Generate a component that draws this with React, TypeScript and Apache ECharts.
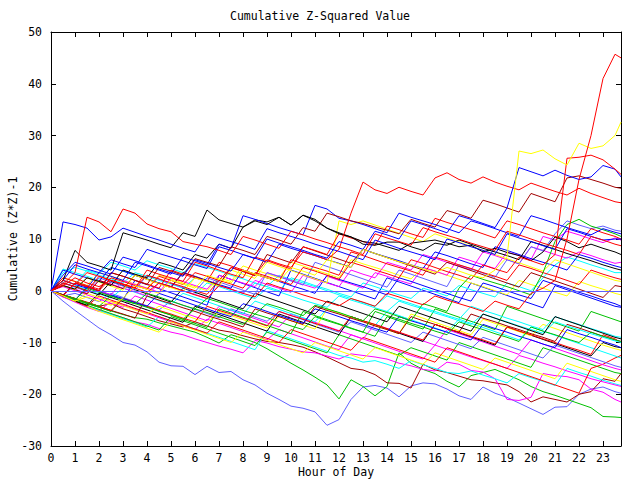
import React, { useEffect, useRef } from "react";
import * as echarts from "echarts";

const TITLE = "Cumulative Z-Squared Value";
const X_NAME = "Hour of Day";
const Y_NAME = "Cumulative (Z*Z)-1";

const HOURS = [
  0, 0.5, 1, 1.5, 2, 2.5, 3, 3.5, 4, 4.5, 5, 5.5,
  6, 6.5, 7, 7.5, 8, 8.5, 9, 9.5, 10, 10.5, 11, 11.5,
  12, 12.5, 13, 13.5, 14, 14.5, 15, 15.5, 16, 16.5, 17, 17.5,
  18, 18.5, 19, 19.5, 20, 20.5, 21, 21.5, 22, 22.5, 23, 23.5, 23.75,
];

const RED = "#ff0000";
const GREEN = "#00c000";
const BLUE = "#0000ff";
const MAGENTA = "#ff00ff";
const CYAN = "#00ffff";
const DARKRED = "#a00000";
const YELLOW = "#ffff00";
const BLACK = "#000000";
const LIGHTBLUE = "#6060ff";

const LB1 = [0, -2, -3.8, -5.5, -7.2, -8.5, -10, -10.5, -11.8, -13.8, -14.5, -14.6,
  -16.2, -14.6, -15.8, -15.6, -17.2, -18.2, -19.8, -21, -22.3, -22.7, -23.4, -26,
  -24.9, -21, -18.6, -18.3, -18.8, -20.5, -18.4, -17.8, -18, -19, -20.3, -21,
  -18.6, -19.8, -20.6, -21.7, -22.8, -23.9, -22.5, -22.4, -20, -19, -18.6, -19.5, -19.8];
const G1 = [0, -1, -1.8, -2.5, -3.2, -3.9, -4.6, -5.2, -5.5, -6.2, -6.8, -7.4,
  -8, -9, -10.1, -8.5, -9.2, -10, -11.2, -12.6, -14, -15.3, -16.7, -18.2,
  -20.9, -17.2, -18.5, -20.3, -18.5, -12, -14, -15.2, -16, -17.5, -18.6, -16.4,
  -15.8, -15.2, -16.2, -17.2, -18.5, -19.5, -20.2, -21, -21.8, -22.6, -24.3, -24.4, -24.5];
const DR1 = [0, -0.8, -1.5, -2.3, -3, -2.5, -3.5, -4.2, -5, -5.8, -6.4, -7,
  -6, -6.8, -7.6, -8, -8.7, -9.3, -9.8, -10, -10.4, -10.9, -11.8, -12.8,
  -13.9, -15, -15.3, -16.2, -17.8, -17.9, -18.8, -14.2, -15.3, -15.8, -16.5, -17.2,
  -17.4, -17.8, -18.2, -19.5, -21.5, -20.5, -21, -21.5, -20, -19.5, -17, -17.5, -16];
const M1 = [0, -1.2, -2, -3, -3.8, -4.5, -5.2, -6, -6.5, -7.3, -8, -8.5,
  -9.3, -10, -10.7, -11.3, -12, -9.6, -10.1, -10.8, -11.3, -11.8, -12, -12.6,
  -13.2, -12.2, -12.5, -12.8, -13.2, -14, -14.5, -15.2, -15.5, -13.8, -14.2, -15.4,
  -15.7, -17, -21, -21.2, -20.6, -16, -16.4, -16.6, -17.2, -19, -19.6, -21, -21.5];
const R_TOP = [0, 1, 2.5, 1.5, 0.8, 2, 1.2, 0.5, -0.3, 1.5, 0.8, 0,
  -0.8, -1.5, 1, 0.3, -0.5, -1.2, 1.5, 0.7, 0, -0.8, -1.5, -2.2,
  -2.9, -1.5, -2.2, -3, -0.5, -1.2, -2, -2.7, -1, -1.8, -2.5, -3.2,
  -4, -2, -2.8, -3.5, -0.5, 0.5, 2, 10, 21.5, 30, 41, 45.7, 45];
const Y_TOP = [0, -1, -2, -1.2, -2, -2.8, -1.5, 1, 0.3, -0.5, 2, 1.3,
  0.5, 3, 2.2, 1.5, 4, 3.2, 2.5, 1.8, 4.5, 3.8, 3, 6,
  5.2, 4.5, 8, 7.2, 6.4, 5.6, 5, 4.2, 3.5, 4.5, 3.8, 3,
  2.5, 4, 6.5, 27, 26.5, 27.2, 25.5, 24.3, 28.5, 27.5, 28, 30, 32.6];
const R_26 = [0, 2, 1.2, 3.5, 2.8, 2, 1.3, 0.6, 3, 2.3, 1.5, 0.8,
  0, -0.7, 2, 1.3, 0.5, 3.5, 2.8, 2, 1.2, 4.5, 3.8, 3,
  2.2, 5.5, 4.8, 4, 3.3, 2.5, 6, 5.3, 4.5, 3.7, 3, 2.2,
  5, 4.2, 3.5, 6.5, 5.8, 5, 7, 25.6, 25.8, 26.2, 25.3, 23.5, 22.5];
const B_TOP = [0, 3, 5.5, 4.8, 4, 3.2, 6.5, 5.8, 5, 4.2, 3.5, 2.8,
  6, 5.3, 4.5, 3.8, 7, 6.2, 10, 9.2, 8.5, 7.8, 7, 6.3,
  9.5, 8.8, 8, 11.5, 10.8, 10, 13.5, 12.8, 12, 11.2, 14.5, 13.8,
  13, 12.2, 16, 23.8, 23, 22.2, 23.3, 22.3, 21.5, 22, 24.2, 23.5, 22];
const R_MID = [0, -1, 1.5, 0.8, 0, 2.5, 1.8, 1, 0.3, 2.8, 2, 1.2,
  3.5, 2.8, 2, 4.5, 3.8, 3, 6, 5.2, 4.5, 7.5, 6.8, 6,
  8, 15, 21, 19.5, 18.8, 20, 19.2, 18.5, 21.8, 22.8, 21.5, 20.8,
  22, 21, 20.2, 19.5, 20.8, 20, 19.2, 18.5, 19.8, 18.8, 18, 17.2, 17];
const R_16 = [0, 1.2, 3.5, 14.2, 13.3, 11.4, 15.8, 15, 12.9, 12, 11.4, 9.5,
  9, 8.5, 7.8, 7, 10.5, 9.8, 9, 8.2, 11.5, 10.8, 10, 9.3,
  8.5, 7.8, 7, 11, 10.2, 9.5, 8.8, 12.2, 11.4, 10.7, 10, 9.2,
  8.5, 7.8, 11.5, 10.8, 10, 9.2, 8.5, 7.8, 7, 10.5, 9.8, 9, 8.7];
const B_13 = [0, 13.3, 12.8, 12.1, 9.8, 10.4, 12.1, 11.3, 10.5, 9.8, 9, 8.2,
  7.5, 11, 10.2, 9.5, 8.8, 8, 12, 11.2, 10.5, 9.8, 9, 8.3,
  7.6, 6.8, 6, 9.8, 9, 8.2, 7.5, 6.8, 6, 10, 9.3, 8.5,
  7.8, 7, 11, 10.2, 9.5, 8.7, 8, 12, 11.3, 10.5, 9.8, 10, 10];
const K_BIG = [0, 2, 7.8, 5.5, 4.8, 4, 11.2, 10.5, 9.8, 9, 8.3, 11.2,
  10.5, 15.6, 13.7, 13, 12.3, 13.5, 12.8, 14.2, 12.7, 14.6, 13.8, 12.1,
  11.2, 10.4, 9, 8.8, 9.4, 9.4, 8.5, 7.8, 9.2, 8.8, 9.8, 9,
  8.2, 7.5, 6.8, 6, 9.5, 8.8, 8, 7.2, 6.5, 5.8, 5, 4.3, 4];
const K_2 = [0, 1, 0.3, 2.5, 1.8, 1, 4, 3.2, 2.5, 5.5, 4.8, 4,
  7, 6.3, 9, 8.2, 12.3, 13.7, 13.3, 14.2, 12.7, 14.6, 13.5, 12.1,
  11, 10.4, 9.5, 9.2, 8.5, 7.8, 9.2, 9.5, 9.8, 9.2, 8.5, 8.8,
  7.5, 8.2, 7.4, 6.8, 5.8, 7.5, 10.4, 9.5, 8.3, 9, 8.2, 7.5, 7];
const DR_TOP = [0, -0.8, 1.5, 0.8, 0, 3.5, 2.8, 2, 1.2, 4.5, 3.8, 3,
  6.2, 5.5, 4.8, 8.5, 7.8, 7, 10.5, 9.8, 9, 12.2, 11.5, 15,
  14.3, 13.5, 13, 12.3, 11.7, 11, 13.8, 13, 12.3, 15.5, 14.8, 14,
  17.5, 16.8, 16, 15.2, 18.8, 18, 17.2, 21.8, 22.2, 21.5, 20.8, 20, 19.8];
const B_16 = [0, 2, 1.2, 0.5, 3.5, 2.8, 2, 5.5, 4.8, 4, 3.2, 6.5,
  5.8, 5, 9, 8.2, 14.5, 13.8, 13, 12.2, 11.5, 10.8, 16.5, 15.8,
  14, 13.5, 12.8, 12, 11.2, 15, 14.2, 13.5, 12.8, 12, 11.2, 13.5,
  12.8, 12, 11.2, 10.5, 14.5, 13.8, 13, 12.2, 11.5, 10.8, 12, 11.3, 11];
const R_13 = [0, 1.5, 0.8, 0, 2.8, 2, 1.3, 0.5, 4, 3.2, 2.5, 1.8,
  5.5, 4.8, 4, 3.2, 2.5, 6.5, 5.8, 5, 4.2, 8.5, 7.8, 7,
  11, 10.2, 9.5, 8.8, 12.5, 11.8, 11, 10.3, 14, 13.2, 12.5, 11.8,
  11, 10.2, 13.5, 12.8, 12, 11.2, 10.5, 9.8, 9, 12, 11.2, 10.5, 10];
const B_A = [0, 4, 3.2, 2.5, 1.8, 4.5, 3.8, 3, 2.3, 1.5, 0.8, 3.5,
  2.8, 2, 1.2, 0.5, 4, 3.2, 2.5, 1.8, 1, 0.3, -0.5, 3,
  2.2, 1.5, 0.8, 0, -0.8, 2.5, 1.8, 1, 0.2, -0.5, -1.3, -2,
  1.5, 0.8, 0, -0.8, -1.5, 2, 1.2, 0.5, -0.3, -1, -1.8, -2.5, -3];
const Y_A = [0, 2.5, 1.8, 1, 3.5, 2.8, 2, 1.3, 0.5, 3, 2.3, 1.5,
  0.8, 0, 2.5, 1.8, 4.8, 4, 3.3, 2.5, 5.5, 4.8, 4, 3.3,
  2.5, 6, 5.2, 4.5, 3.8, 3, 2.3, 4.5, 3.8, 3, 2.2, 1.5,
  0.8, 0, -0.8, 2, 1.2, 0.5, -0.3, -1, 1.8, 1, 0.3, -0.5, -0.8];
const M_UP = [0, -1, 1.5, 0.8, 0, -0.8, 2, 1.2, 0.5, -0.3, 2.5, 1.8,
  1, 0.3, 3, 2.2, 1.5, 0.8, 3.5, 2.8, 2, 1.2, 0.5, 2.8,
  2, 1.3, 0.5, 3.5, 2.8, 2, 1.3, 4.5, 3.8, 3, 6.5, 5.8,
  5, 4.3, 7.5, 6.8, 6, 10.5, 9.8, 11.5, 10.8, 10, 9.3, 10.2, 9.8];
const M_2 = [0, 1, 0.3, -0.5, 2, 1.3, 0.5, -0.2, -1, 1.5, 0.8, 0,
  -0.7, -1.5, 1, 0.3, -0.5, 2, 1.2, 0.5, -0.3, 3, 2.2, 1.5,
  0.8, 4, 3.2, 2.5, 5.5, 4.8, 4, 7, 6.3, 5.5, 4.8, 4,
  7.5, 6.8, 6, 5.2, 8.5, 7.8, 7, 6.3, 7.5, 6.8, 6, 5.3, 5.5];
const C_UP = [0, 3.5, 4.5, 3.8, 3, 2.3, 1.5, 3.5, 2.8, 2, 1.3, 0.5,
  2.5, 1.8, 1, 0.3, -0.5, 1.5, 0.8, 0, 2.5, 1.8, 1, 0.3,
  -0.5, -1.2, 1.5, 0.8, 0, -0.8, -1.5, 0.5, -0.2, -1, 1, 0.2,
  -0.5, -1.2, 1.5, 0.8, 0, 2.5, 5, 6.5, 5.8, 5, 4.3, 3.5, 3.5];
const C_2 = [0, 4.2, 3.5, 2.8, 2, 4.5, 3.8, 3, 2.3, 1.5, 0.8, 0,
  -0.7, 1.5, 0.8, 0, -0.8, -1.5, 0.5, -0.2, -1, -1.8, -2.5, -3.2,
  -1, -1.8, -2.5, -3.3, -4, -2, -2.8, -3.5, -4.3, -5, -5.8, -6.5,
  -4.5, -5.3, -6, -6.8, -7.5, -8.2, -6, -6.8, -7.5, -8.3, -9, -9.7, -10];
const G_UP = [0, -1, -1.8, 0.5, -0.3, -1, -1.8, -2.5, -0.5, -1.2, -2, -2.8,
  -3.5, -1.5, -2.2, -3, -3.8, -4.5, -2.5, -3.2, -4, -4.8, -2.8, -3.5,
  -4.2, -5, -5.8, -3.5, -4.2, -5, -5.8, -2.5, -3.2, -4, 0.5, 3,
  2.2, 1.5, 0.8, 0, -0.8, 3.5, 9.5, 12.8, 13.8, 12.5, 11.8, 11, 10.5];
const G_2 = [0, -0.8, -1.5, -2.3, -3, -1, -1.8, -2.5, -3.2, -4, -4.7, -5.5,
  -3.5, -4.2, -5, -5.8, -6.5, -4.5, -5.2, -6, -6.8, -7.5, -5, -5.8,
  -6.5, -7.3, -8, -4, -4.8, -5.5, -6.3, -7, -7.8, -8.5, -6, -6.8,
  -7.5, -8.3, -9, -9.8, -7, -7.8, -8.5, -9.3, -10, -8, -8.8, -9.5, -9.8];
const B_DOWN = [0, -1, -1.8, 0.8, 0, -0.8, -1.5, -2.3, -3, -0.5, -1.3, -2,
  -2.8, -3.5, -4.3, -5, -2.5, -3.2, -4, -4.8, -5.5, -6.3, -3.5, -4.2,
  -5, -5.8, -6.5, -7.3, -8, -5, -5.8, -6.5, -7.3, -8, -8.8, -9.5,
  -6.5, -7.3, -8, -8.8, -9.5, -10.3, -11, -7.5, -8.3, -9, -9.8, -10.5, -11];
const R_DOWN = [0, -0.8, -1.5, -2.2, -3, -3.8, -1.5, -2.2, -3, -3.8, -4.5, -5.3,
  -6, -3, -3.8, -4.5, -5.3, -6, -6.8, -4, -4.8, -5.5, -6.3, -7,
  -7.8, -5, -5.8, -6.5, -7.3, -8, -8.8, -9.5, -6.5, -7.3, -8, -8.8,
  -9.5, -10.3, -7, -7.8, -8.5, -9.3, -10, -10.8, -11.5, -12.3, -8.5, -9.3, -10];
const DR_2 = [0, -0.8, -1.5, -2.3, -3, -3.8, -4.5, -5.3, -1, -1.8, -2.5, -3.3,
  -4, -4.8, -5.5, -6.2, -7, -3.5, -4.3, -5, -5.8, -6.5, -3, -3.8,
  -4.5, -5.3, -6, -6.8, -7.5, -8.3, -5, -5.8, -6.5, -7.3, -8, -4.5,
  -5.3, -6, -6.8, -7.5, -8.3, -9, -9.8, -6.5, -7.2, -8, -8.8, -9.5, -9.8];
const C_3 = [0, -1, -2, -3, -3.8, -4.6, -5.4, -6.2, -7, -5, -5.8, -6.6,
  -7.4, -8.2, -9, -9.8, -10.6, -11.4, -7.7, -8.5, -9.3, -10.1, -10.9, -11.7,
  -12.5, -13, -13.8, -13.5, -14.2, -15, -13.5, -14.3, -15, -15.8, -16, -15.5,
  -16.3, -17, -17.8, -16, -16.8, -17.5, -18.3, -15, -15.8, -16.5, -17.3, -18, -18.3];
const M_3 = [0, -1.2, -2.2, -3.2, -4, -2, -2.8, -3.6, -4.4, -5.2, -6, -6.8,
  -7.5, -5.5, -6.3, -7.1, -7.9, -8.7, -9.5, -7.5, -8.3, -9.1, -9.9, -10.7,
  -11.4, -8.5, -9.3, -10.1, -10.9, -11.7, -12.5, -13.2, -10.5, -11.3, -12, -12.8,
  -13.5, -14.2, -15, -12.5, -13.2, -14, -14.7, -15.5, -16.2, -17, -17.6, -18.2, -18.5];
const Y_2 = [0, -1, -2, -0.5, -1.3, -2.1, -2.9, -3.7, -4.5, -3, -3.8, -4.6,
  -5.4, -6.2, -4, -4.8, -5.6, -6.4, -7.2, -5, -5.8, -6.6, -7.4, -3.5,
  -4.3, -5.1, -5.9, -6.7, -7.5, -8.3, -4.5, -5.3, -6.1, -6.9, -7.7, -8.5,
  -5.5, -6.3, -7.1, -7.9, -8.7, -6.5, -7.3, -8.1, -8.9, -9.7, -10.5, -11.2, -11.5];
const G_3 = [0, -1, -2, -2.8, -3.6, -4.4, -5.2, -6, -6.8, -7.6, -5, -5.8,
  -6.6, -7.4, -8.2, -9, -9.8, -10.6, -8, -8.8, -9.6, -10.4, -11.2, -12,
  -8.5, -9.3, -10.1, -10.9, -11.7, -12.5, -11, -11.8, -12.6, -13.4, -10, -10.8,
  -11.6, -12.4, -13.2, -14, -14.8, -11, -11.8, -12.6, -13.4, -14.2, -15, -15.8, -16];
const B_5 = [0, -1, 1.5, 0.7, -0.1, -0.9, -1.7, 2, 1.2, 0.4, -0.4, -1.2,
  -2, -2.8, 3, 2.2, 1.4, 0.6, -0.2, -1, 4, 3.2, 2.4, 1.6,
  0.8, 0, -0.8, -1.6, 2.5, 1.7, 0.9, 0.1, -0.7, -1.5, -2.3, 1.5,
  0.7, -0.1, -0.9, -1.7, -2.5, -3.3, 1, 0.2, -0.6, -1.4, -2.2, -3, -3.2];
const LB2 = [0, -1, -0.5, -1.3, -2.1, -0.5, -1.3, -2.1, -2.9, -3.7, -2, -2.8,
  -3.6, -4.4, -5.2, -3.5, -4.3, -5.1, -5.9, -4, -4.8, -5.6, -6.4, -7.2,
  -8, -6, -6.8, -7.6, -8.4, -9.2, -10, -8, -8.8, -9.6, -10.4, -11.2,
  -9, -9.8, -10.6, -11.4, -12.2, -13, -10.5, -11.3, -12.1, -12.9, -13.7, -14.5, -14.8];
const R_M2 = [0, 2.5, 1.8, 1, 0.3, 3.5, 2.8, 2, 1.3, 0.5, 4, 3.2,
  2.5, 1.8, 5.5, 4.8, 4, 3.2, 2.5, 1.8, 6, 5.2, 4.5, 3.8,
  3, 7.5, 6.8, 6, 5.2, 4.5, 3.8, 3, 6.5, 5.8, 5, 4.3,
  3.5, 2.8, 2, 5, 4.3, 3.5, 2.8, 2, 1.2, 4, 3.2, 2.5, 2.2];
const B_6 = [0, 2, 5, 4.2, 3.5, 6, 5.2, 4.5, 8, 7.2, 6.5, 5.8,
  5, 4.3, 8.5, 7.8, 7, 6.3, 5.5, 9, 8.2, 7.5, 6.8, 6,
  5.3, 4.5, 8, 7.2, 6.5, 5.8, 5, 4.3, 7.5, 6.8, 6, 5.2,
  4.5, 8.5, 7.8, 7, 6.2, 5.5, 4.8, 4, 7, 6.3, 5.5, 4.8, 4.5];
const K_3 = [0, 1.5, 0.8, 0, -0.8, 1.8, 1, 0.2, -0.6, -1.4, -2.2, 0.5,
  -0.3, -1.1, -1.9, -2.7, -3.5, -0.5, -1.3, -2.1, -2.9, -3.7, -4.5, -2,
  -2.8, -3.6, -4.4, -5.2, -6, -3, -3.8, -4.6, -5.4, -6.2, -7, -7.8,
  -4.5, -5.3, -6.1, -6.9, -7.7, -8.5, -5, -5.8, -6.6, -7.4, -8.2, -9, -9.3];
const Y_3 = [0, 1, 0.2, 2.5, 1.7, 0.9, 0.1, 3, 2.2, 1.4, 0.6, -0.2,
  2.5, 1.7, 0.9, 4, 3.2, 2.4, 5.5, 4.7, 3.9, 3.1, 2.3, 1.5,
  13.5, 12.8, 13.5, 12.7, 11.9, 11.1, 10.3, 9.5, 11, 10.2, 9.4, 8.6,
  7.8, 7, 6.2, 5.4, 4.6, 3.8, 6, 5.2, 4.4, 3.6, 2.8, 2, 1.8];
const C_4 = [0, 2, 1.2, 4, 3.3, 5.5, 4.8, 4, 5.8, 5, 4.3, 3.5,
  5.2, 4.5, 3.8, 3, 2.3, 1.5, 0.8, 3, 2.2, 1.5, 0.8, 0,
  -0.8, -1.5, -2.3, -3, -1, -1.8, -2.5, -3.3, -4, -4.8, -5.5, -3,
  -3.8, -4.5, -5.3, -6, -6.8, -7.5, -5, -5.8, -6.5, -7.3, -8, -8.8, -9];
const M_4 = [0, 0.8, 0, -0.8, -1.6, -2.4, -3.2, -1, -1.8, -2.6, -3.4, -4.2,
  -5, -5.8, -3, -3.8, -4.6, -5.4, -6.2, -7, -4.5, -5.3, -6.1, -6.9,
  -7.7, -8.5, -9.3, -6.5, -7.3, -8.1, -8.9, -9.7, -10.5, -7.5, -8.3, -9.1,
  -9.9, -10.7, -11.5, -12.3, -9.5, -10.3, -11.1, -11.9, -12.7, -13.5, -14.3, -15, -15.3];
const DR_3 = [0, 1, 0.2, -0.6, 2, 1.2, 0.4, 3, 2.2, 1.4, 0.6, 3.5,
  2.7, 1.9, 1.1, 4.5, 3.7, 2.9, 7, 6.2, 5.4, 8.5, 7.7, 6.9,
  6.1, 5.3, 8, 7.2, 6.4, 5.6, 4.8, 4, 3.2, 5.5, 4.7, 3.9,
  3.1, 2.3, 1.5, 0.7, 3.5, 2.7, 1.9, 1.1, 0.3, -0.5, -1.3, 1, 0.8];
const G_4 = [0, -0.8, -1.6, -2.4, -3.2, -4, -1.5, -2.3, -3.1, -3.9, -4.7, -5.5,
  -6.3, -7.1, -3.5, -4.3, -5.1, -5.9, -6.7, -7.5, -8.3, -4, -4.8, -5.6,
  -6.4, -7.2, -8, -8.8, -5, -5.8, -6.6, -7.4, -3.5, -4.3, -5.1, -5.9,
  -6.7, -7.5, -3, -3.8, -4.6, -5.4, -6.2, -7, -7.8, -4, -4.8, -5.6, -6];
const K_4 = [0, -1, -2, -2.8, -0.5, -1.3, -2.1, -2.9, -3.7, -4.5, -5.3, -6.1,
  -3, -3.8, -4.6, -5.4, -6.2, -7, -7.8, -4.5, -5.3, -6.1, -6.9, -7.7,
  -8.5, -5, -5.8, -6.6, -7.4, -8.2, -9, -9.8, -6.5, -7.3, -8.1, -8.9,
  -9.7, -10.5, -7, -7.8, -8.6, -9.4, -10.2, -11, -11.8, -12.6, -10, -10.8, -11];
const Y_4 = [0, -1, -2, -3, -4, -4.8, -5.6, -6.4, -7.2, -8, -6, -6.8,
  -7.6, -8.4, -9.2, -10, -8, -8.8, -9.6, -10.4, -11.2, -12, -10, -10.8,
  -11.6, -12.4, -13.2, -11, -11.8, -12.6, -13.4, -14.2, -12, -12.8, -13.6, -14.4,
  -15.2, -13, -13.8, -14.6, -15.4, -16.2, -17, -14, -14.8, -15.6, -16.4, -17.2, -17.5];
const R_LOW = [0, -1, -2, -3, -1, -1.8, -2.6, -3.4, -4.2, -5, -5.8, -6.6,
  -7.4, -8.2, -6, -6.8, -7.6, -8.4, -9.2, -10, -7.5, -8.3, -9.1, -9.9,
  -10.7, -11.5, -9, -9.8, -10.6, -11.4, -12.2, -13, -13.8, -11, -11.8, -12.6,
  -13.4, -14.2, -15, -15.8, -16.6, -17.4, -18.2, -19, -19.8, -15, -14.2, -13, -12.5];
const LB3 = [0, 1.5, 0.7, -0.1, 2.5, 1.7, 0.9, 0.1, 3, 2.2, 1.4, 0.6,
  -0.2, 2.5, 1.7, 0.9, 0.1, -0.7, 3.5, 2.7, 1.9, 1.1, 5.5, 4.7,
  3.9, 3.1, 2.3, 1.5, 0.7, 4, 3.2, 2.4, 1.6, 0.8, 5, 4.2,
  3.4, 2.6, 6, 5.2, 8.5, 7.7, 11, 13.5, 12.7, 12, 12.5, 11.7, 11.5];
const C_5 = [0, -0.8, 1, 0.2, -0.6, -1.4, 0.5, -0.3, -1.1, -1.9, -2.7, -0.5,
  -1.3, -2.1, -2.9, -3.7, -4.5, -2, -2.8, -3.6, -4.4, -5.2, -6, -3.5,
  -4.3, -5.1, -5.9, -6.7, -4, -4.8, -5.6, -6.4, -7.2, -8, -5.5, -6.3,
  -7.1, -7.9, -8.7, -9.5, -7, -7.8, -8.6, -9.4, -10.2, -11, -11.8, -12.6, -13];

const LINES: { color: string; values: number[] }[] = [
  { color: LIGHTBLUE, values: LB1 },
  { color: GREEN, values: G1 },
  { color: DARKRED, values: DR1 },
  { color: MAGENTA, values: M1 },
  { color: CYAN, values: C_3 },
  { color: MAGENTA, values: M_3 },
  { color: GREEN, values: G_3 },
  { color: YELLOW, values: Y_4 },
  { color: RED, values: R_LOW },
  { color: LIGHTBLUE, values: LB2 },
  { color: MAGENTA, values: M_4 },
  { color: CYAN, values: C_5 },
  { color: BLACK, values: K_4 },
  { color: GREEN, values: G_4 },
  { color: YELLOW, values: Y_2 },
  { color: DARKRED, values: DR_2 },
  { color: RED, values: R_DOWN },
  { color: BLUE, values: B_DOWN },
  { color: GREEN, values: G_2 },
  { color: CYAN, values: C_2 },
  { color: CYAN, values: C_4 },
  { color: BLACK, values: K_3 },
  { color: BLUE, values: B_5 },
  { color: YELLOW, values: Y_A },
  { color: CYAN, values: C_UP },
  { color: MAGENTA, values: M_2 },
  { color: MAGENTA, values: M_UP },
  { color: LIGHTBLUE, values: LB3 },
  { color: BLUE, values: B_A },
  { color: DARKRED, values: DR_3 },
  { color: RED, values: R_M2 },
  { color: BLUE, values: B_6 },
  { color: YELLOW, values: Y_3 },
  { color: GREEN, values: G_UP },
  { color: RED, values: R_13 },
  { color: BLACK, values: K_2 },
  { color: BLUE, values: B_16 },
  { color: DARKRED, values: DR_TOP },
  { color: BLACK, values: K_BIG },
  { color: BLUE, values: B_13 },
  { color: RED, values: R_16 },
  { color: RED, values: R_MID },
  { color: BLUE, values: B_TOP },
  { color: RED, values: R_26 },
  { color: YELLOW, values: Y_TOP },
  { color: RED, values: R_TOP },
];

const FONT = "'DejaVu Sans Mono', 'Liberation Mono', monospace";

export default function App() {
  const ref = useRef<HTMLDivElement>(null);
  useEffect(() => {
    document.body.style.margin = "0";
    const chart = echarts.init(ref.current!, null, { renderer: "svg" });
    const axisCommon = {
      type: "value" as const,
      axisLine: { show: true, onZero: false, lineStyle: { color: "#000", width: 1 } },
      axisTick: { show: true, inside: true, length: 5, lineStyle: { color: "#000", width: 1 } },
      splitLine: { show: false },
    };
    const labelStyle = { fontFamily: FONT, fontSize: 11.5, color: "#000" };
    const series: any[] = LINES.map((l, idx) => ({
      type: "line",
      data: HOURS.map((h, i) => [h, l.values[i]]),
      symbol: "none",
      silent: true,
      z: 2 + idx * 0.01,
      lineStyle: { width: 1, color: l.color },
      itemStyle: { color: l.color },
    }));
    series[0].markLine = {
      silent: true,
      symbol: "none",
      label: { show: false },
      lineStyle: { color: LIGHTBLUE, type: "solid", width: 1 },
      data: [{ yAxis: 0 }],
    };
    chart.setOption({
      animation: false,
      backgroundColor: "#ffffff",
      title: {
        text: TITLE,
        left: "center",
        top: 5,
        textStyle: { ...labelStyle, fontWeight: "normal" },
      },
      grid: { left: 51, top: 32, width: 570, height: 414, outerBoundsMode: "none", containLabel: false },
      xAxis: [
        {
          ...axisCommon,
          position: "bottom",
          min: 0,
          max: 23.75,
          interval: 1,
          name: X_NAME,
          nameLocation: "middle",
          nameGap: 20,
          nameMoveOverlap: false,
          nameTextStyle: labelStyle,
          axisLabel: {
            ...labelStyle,
            margin: 6,
            showMaxLabel: false,
            formatter: (v: number) => (Number.isInteger(v) ? String(v) : ""),
          },
        },
        {
          ...axisCommon,
          position: "top",
          min: 0,
          max: 23.75,
          interval: 1,
          axisLabel: { show: false },
        },
      ],
      yAxis: [
        {
          ...axisCommon,
          position: "left",
          min: -30,
          max: 50,
          interval: 10,
          name: Y_NAME,
          nameLocation: "middle",
          nameGap: 32,
          nameMoveOverlap: false,
          nameRotate: 90,
          nameTextStyle: labelStyle,
          axisLabel: { ...labelStyle, margin: 9 },
        },
        {
          ...axisCommon,
          position: "right",
          min: -30,
          max: 50,
          interval: 10,
          axisLabel: { show: false },
        },
      ],
      series,
    });
    return () => chart.dispose();
  }, []);
  return <div ref={ref} style={{ width: 640, height: 480 }} />;
}
